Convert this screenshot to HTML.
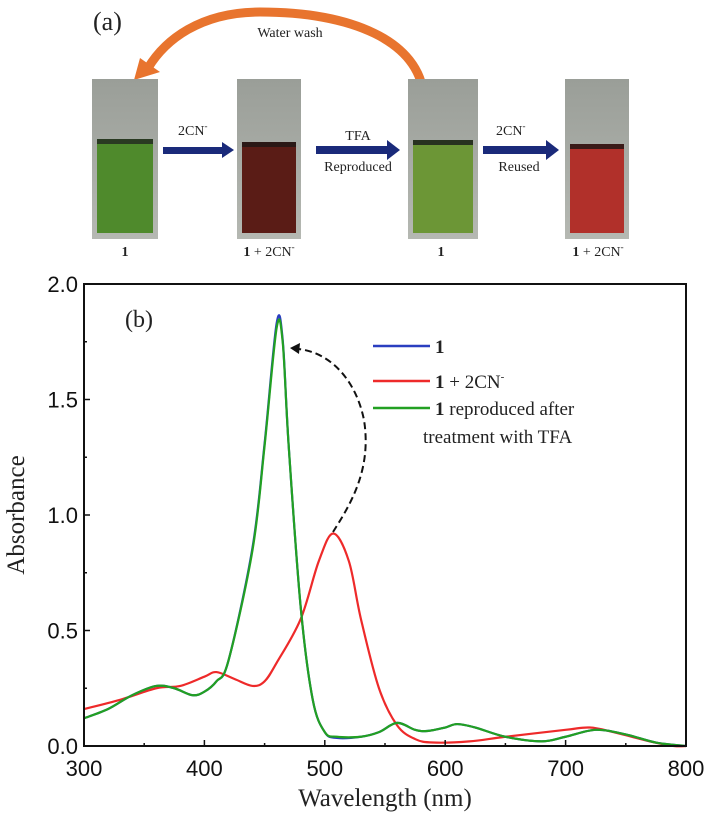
<!DOCTYPE html>
<html><head><meta charset="utf-8"><style>
body{margin:0;background:#fff;}
svg{display:block;}
.ser{font-family:"Liberation Serif",serif;}
.san{font-family:"Liberation Sans",sans-serif;}
</style></head><body>
<svg id="fig" width="709" height="813" viewBox="0 0 709 813">
<defs>
<linearGradient id="gv" x1="0" y1="0" x2="0" y2="1"><stop offset="0" stop-color="#9a9e98"/><stop offset="1" stop-color="#b5b8b2"/></linearGradient>
</defs>
<g>
<text x="93" y="30" class="ser" font-size="26" fill="#222">(a)</text>
<path d="M424,98 C420,40 350,12 260,12 C200,12 165,40 148,68" fill="none" stroke="#e8742e" stroke-width="9"/>
<polygon points="134,80 140,58 160,72" fill="#e8742e"/>
<text x="290" y="37" class="ser" font-size="14" fill="#222" text-anchor="middle">Water wash</text>
<g><rect x="92" y="79" width="66" height="160" fill="url(#gv)"/><rect x="97" y="141" width="56" height="92" fill="#4f8a2c"/><rect x="97" y="139" width="56" height="5" fill="#2a3a22"/></g>
<g><rect x="237" y="79" width="64" height="160" fill="url(#gv)"/><rect x="242" y="144" width="54" height="89" fill="#5a1c16"/><rect x="242" y="142" width="54" height="5" fill="#2a1816"/></g>
<g><rect x="408" y="79" width="70" height="160" fill="url(#gv)"/><rect x="413" y="142" width="60" height="91" fill="#6c9636"/><rect x="413" y="140" width="60" height="5" fill="#283220"/></g>
<g><rect x="565" y="79" width="64" height="160" fill="url(#gv)"/><rect x="570" y="146" width="54" height="87" fill="#b1302a"/><rect x="570" y="144" width="54" height="5" fill="#3a1a18"/></g>
<g fill="#1a2a7a">
<rect x="163" y="147" width="60" height="7"/><polygon points="222,142 234,150 222,158"/>
<rect x="316" y="146" width="72" height="8"/><polygon points="387,140 400,150 387,160"/>
<rect x="483" y="146" width="64" height="8"/><polygon points="546,140 559,150 546,160"/>
</g>
<g class="ser" fill="#222" font-size="14">
<text x="178" y="135">2CN<tspan font-size="9" dy="-6">-</tspan></text>
<text x="358" y="140" text-anchor="middle">TFA</text>
<text x="358" y="171" text-anchor="middle">Reproduced</text>
<text x="496" y="135">2CN<tspan font-size="9" dy="-6">-</tspan></text>
<text x="519" y="171" text-anchor="middle">Reused</text>
<text x="125" y="256" text-anchor="middle" font-weight="bold">1</text>
<text x="269" y="256" text-anchor="middle"><tspan font-weight="bold">1</tspan> + 2CN<tspan font-size="9" dy="-6">-</tspan></text>
<text x="441" y="256" text-anchor="middle" font-weight="bold">1</text>
<text x="598" y="256" text-anchor="middle"><tspan font-weight="bold">1</tspan> + 2CN<tspan font-size="9" dy="-6">-</tspan></text>
</g>
</g>
<g id="chart"></g>
</svg>
<script>
const xTicks=[300,400,500,600,700,800];
const yTicks=[0.0,0.5,1.0,1.5,2.0];
const yTickLabels=["0.0","0.5","1.0","1.5","2.0"];
const wlGreen=[300,320,340,360,375,390,400,410,420,440,450,460,465,470,480,490,500,510,530,545,560,575,585,600,610,625,650,680,700,725,750,775,800];
const absGreen=[0.12,0.16,0.22,0.26,0.25,0.22,0.235,0.28,0.37,0.85,1.3,1.81,1.75,1.3,0.6,0.2,0.06,0.04,0.04,0.06,0.10,0.07,0.065,0.08,0.095,0.08,0.04,0.02,0.04,0.07,0.05,0.015,0];
const wlBlue=[300,320,340,360,375,390,400,410,420,440,450,460,465,470,480,490,500,510,530,545,560,575,585,600,610,625,650,680,700,725,750,775,800];
const absBlue=[0.12,0.16,0.22,0.26,0.25,0.22,0.235,0.28,0.37,0.86,1.31,1.83,1.76,1.3,0.6,0.2,0.06,0.035,0.04,0.06,0.10,0.07,0.065,0.08,0.095,0.08,0.04,0.02,0.04,0.07,0.05,0.015,0];
const wlRed=[300,330,360,380,400,410,425,440,450,460,480,495,507,520,530,545,560,575,590,620,650,700,720,740,770,790,800];
const absRed=[0.16,0.2,0.25,0.26,0.3,0.32,0.29,0.26,0.28,0.36,0.55,0.8,0.92,0.8,0.55,0.25,0.09,0.03,0.015,0.02,0.04,0.07,0.08,0.06,0.02,0,0];
const X0=84,X1=686,Y0=746,Y1=284;
function sx(v){return X0+(v-300)/500*(X1-X0);}
function sy(v){return Y0-v/2*(Y0-Y1);}
const NS="http://www.w3.org/2000/svg";
const g=document.getElementById('chart');
function mk(t,a,parent){const e=document.createElementNS(NS,t);for(const k in a)e.setAttribute(k,a[k]);(parent||g).appendChild(e);return e;}
function smooth(xs,ys){const p=xs.map((x,i)=>[sx(x),sy(ys[i])]);let d="M"+p[0][0]+","+p[0][1];
for(let i=0;i<p.length-1;i++){const a=p[i-1]||p[i],b=p[i],c=p[i+1],e=p[i+2]||c;
const c1=[b[0]+(c[0]-a[0])/6,b[1]+(c[1]-a[1])/6],c2=[c[0]-(e[0]-b[0])/6,c[1]-(e[1]-b[1])/6];
d+=" C"+c1+" "+c2+" "+c;}return d;}
const series=[[wlRed,absRed,"#ee2a2a","series-1-plus-2cn"],[wlBlue,absBlue,"#2a3ec0","series-1"],[wlGreen,absGreen,"#22a022","series-1-reproduced"]];
series.forEach(s=>{const p=mk('path',{d:smooth(s[0],s[1]),fill:'none',stroke:s[2],'stroke-width':2.2});

});
const fr=mk('rect',{x:X0,y:Y1,width:X1-X0,height:Y0-Y1,fill:'none',stroke:'#111','stroke-width':2});


xTicks.forEach(v=>{const x=sx(v);mk('line',{x1:x,x2:x,y1:Y0,y2:Y0-6,stroke:'#111','stroke-width':1.5});
mk('line',{x1:sx(v+50),x2:sx(v+50),y1:Y0,y2:Y0-3,stroke:'#111','stroke-width':1.5});
const t=mk('text',{x:x,y:Y0+30,'text-anchor':'middle','font-size':22,class:'san',fill:'#111'});t.textContent=v;

});
yTicks.forEach((v,i)=>{const y=sy(v);mk('line',{x1:X0,x2:X0+6,y1:y,y2:y,stroke:'#111','stroke-width':1.5});
if(v<2)mk('line',{x1:X0,x2:X0+3,y1:sy(v+0.25),y2:sy(v+0.25),stroke:'#111','stroke-width':1.5});
const t=mk('text',{x:X0-6,y:y+8,'text-anchor':'end','font-size':22,class:'san',fill:'#111'});t.textContent=yTickLabels[i];

});
let t=mk('text',{x:385,y:806,'text-anchor':'middle','font-size':25,class:'ser',fill:'#222'});t.textContent="Wavelength (nm)";


t=mk('text',{x:0,y:0,'text-anchor':'middle','font-size':25,class:'ser',fill:'#222',transform:'translate(24,515) rotate(-90)'});t.textContent="Absorbance";


t=mk('text',{x:125,y:327,'font-size':24,class:'ser',fill:'#222'});t.textContent="(b)";


const da=mk('path',{d:'M333,532 C350,505 372,470 364,420 C356,380 330,352 298,349',fill:'none',stroke:'#111','stroke-width':2,'stroke-dasharray':'7,4'});


const ah=mk('polygon',{points:'290,348 300,343 299,354',fill:'#111'});


const leg=[["#2a3ec0",346,"1",""],["#ee2a2a",381,"1"," + 2CN"],["#22a022",408,"1"," reproduced after"]];
leg.forEach((l,i)=>{const ln=mk('line',{x1:373,x2:430,y1:l[1],y2:l[1],stroke:l[0],'stroke-width':2.5});


const tx=mk('text',{x:435,y:l[1]+7,'font-size':19,class:'ser',fill:'#222'});


const b=mk('tspan',{'font-weight':'bold'},tx);b.textContent=l[2];
const r=mk('tspan',{},tx);r.textContent=l[3];
if(i==1){const s=mk('tspan',{'font-size':11,dy:-8},tx);s.textContent="-";}});
t=mk('text',{x:423,y:443,'font-size':19,class:'ser',fill:'#222'});t.textContent="treatment with TFA";


</script>
</body></html>
